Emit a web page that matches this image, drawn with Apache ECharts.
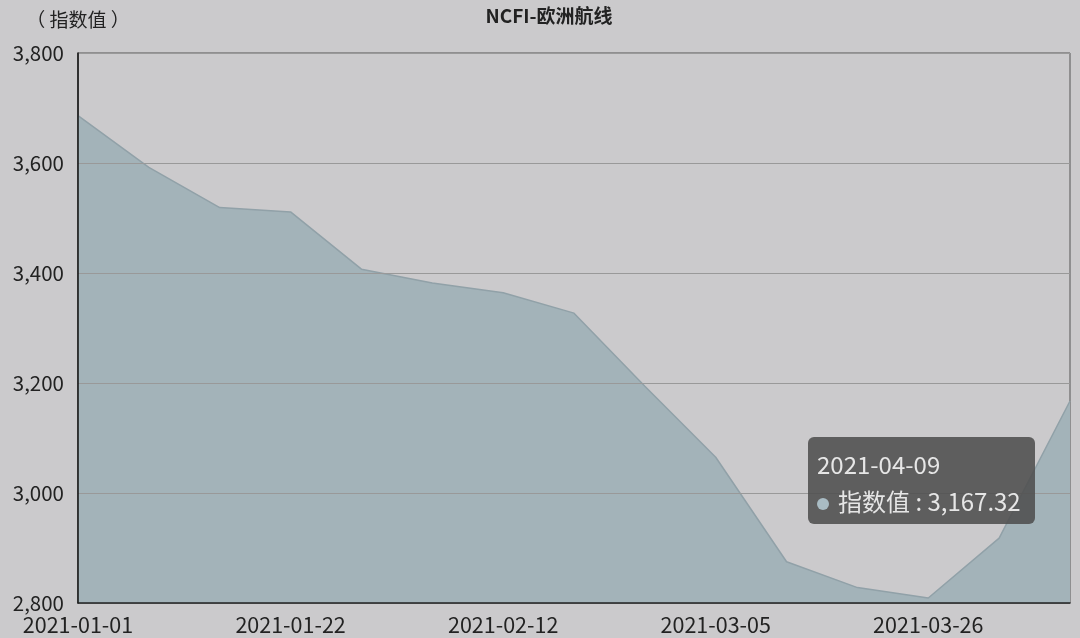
<!DOCTYPE html>
<html>
<head>
<meta charset="utf-8">
<script src="https://cdn.jsdelivr.net/npm/echarts@6/dist/echarts.min.js"></script>
<style>
html,body{margin:0;padding:0;background:#cbcacc;}
#c{width:1080px;height:638px;}
</style>
</head>
<body>
<div id="c"></div>
<script>
const categories = ['2021-01-01','2021-01-08','2021-01-15','2021-01-22','2021-01-29','2021-02-05','2021-02-12','2021-02-19','2021-02-26','2021-03-05','2021-03-12','2021-03-19','2021-03-26','2021-04-02','2021-04-09'];
const values = [3686, 3592, 3519, 3511, 3407, 3382, 3364, 3327, 3194, 3065, 2875, 2828, 2809, 2918, 3167.32];
const yTicks = { min: 2800, max: 3800, interval: 200 };
const titleText = 'NCFI-欧洲航线';
const yName = '（ 指数值 ）';
const seriesName = '指数值';

const chart = echarts.init(document.getElementById('c'), null, {renderer:'canvas'});
const fontFam = '"Noto Sans CJK SC","Noto Sans",sans-serif';
chart.setOption({
  animation: false,
  backgroundColor: '#cbcacc',
  title: {
    text: titleText, left: 544, top: 1, textAlign: 'center',
    textStyle: {fontSize: 19, fontWeight: 'bold', color: '#222', fontFamily: fontFam}
  },
  grid: {left: 78, right: 10, top: 53, bottom: 35, show: true, borderColor: '#555', borderWidth: 1, backgroundColor: 'transparent'},
  tooltip: {
    trigger: 'axis',
    axisPointer: {type: 'none'},
    alwaysShowContent: true,
    transitionDuration: 0,
    position: [808, 437],
    backgroundColor: 'rgba(78,78,78,0.88)',
    borderWidth: 0,
    borderRadius: 6,
    padding: [8, 8, 5, 9],
    extraCssText: 'box-shadow:none;width:210px;line-height:37px;',
    textStyle: {color: '#e6e6e6', fontSize: 24, fontFamily: fontFam},
    formatter: function (params) {
      const p = params[0];
      const v = p.value.toLocaleString('en-US', {minimumFractionDigits: 2, maximumFractionDigits: 2});
      return '<div style="color:#e6e6e6;font-size:24px;line-height:37px;">' + p.name + '</div>' +
        '<div style="color:#e6e6e6;font-size:24px;line-height:37px;"><span style="display:inline-block;width:12px;height:12px;border-radius:50%;background:#a9bcc4;margin-right:9px;vertical-align:middle;"></span>' +
        p.seriesName + ' : ' + v + '</div>';
    }
  },
  xAxis: {
    type: 'category',
    data: categories,
    boundaryGap: false,
    z: 5,
    axisLine: {lineStyle: {color: '#222', width: 1.5}},
    axisTick: {show: false},
    axisLabel: {interval: 2, color: '#222', fontSize: 21.5, margin: 11, fontFamily: fontFam},
    splitLine: {show: false}
  },
  yAxis: {
    type: 'value',
    min: yTicks.min, max: yTicks.max, interval: yTicks.interval,
    z: 5,
    name: yName, nameLocation: 'end', nameGap: 24,
    nameTextStyle: {color: '#222', fontSize: 19, align: 'center', fontFamily: fontFam},
    axisLine: {show: true, lineStyle: {color: '#111', width: 1.5}},
    axisTick: {show: false},
    axisLabel: {color: '#222', fontSize: 20.5, margin: 14, fontFamily: fontFam,
      formatter: v => v.toLocaleString('en-US')},
    splitLine: {lineStyle: {color: '#999', width: 1}}
  },
  series: [{
    name: seriesName,
    type: 'line',
    data: values,
    symbol: 'none',
    lineStyle: {color: '#849399', width: 1.5},
    itemStyle: {color: '#a9bcc4'},
    areaStyle: {color: '#95a3a9', opacity: 1}
  }]
});
chart.dispatchAction({type: 'showTip', seriesIndex: 0, dataIndex: 14});
</script>
</body>
</html>
